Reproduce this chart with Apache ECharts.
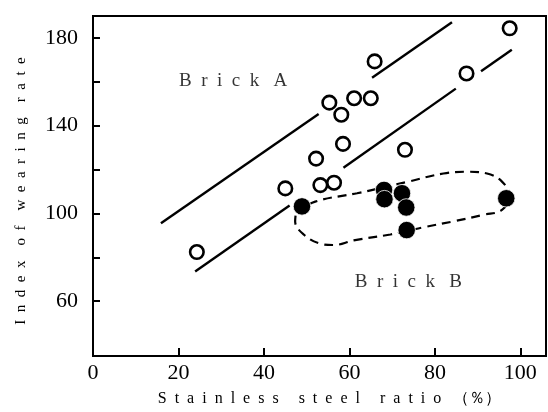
<!DOCTYPE html>
<html>
<head>
<meta charset="utf-8">
<script src="https://cdn.jsdelivr.net/npm/echarts@6/dist/echarts.min.js"></script>
<style>
html,body{margin:0;padding:0;background:#fff;}
#chart{width:548px;height:412px;}
</style>
</head>
<body>
<div id="chart"></div>
<script>
// ---- data ----
var brickA = [
  [24.3, 82.4], [45.0, 111.4], [52.2, 125.0], [53.2, 112.9], [55.3, 150.5],
  [56.4, 114.0], [58.1, 145.0], [58.5, 131.7], [61.1, 152.5], [65.0, 152.5],
  [65.9, 169.3], [73.0, 129.0], [87.4, 163.8], [97.5, 184.4]
];
var brickB = [
  [48.9, 103.2], [68.1, 110.7], [68.2, 106.5], [72.3, 109.2], [73.3, 102.7],
  [73.4, 92.4], [96.7, 106.9]
];
var upperLineSegs = [
  [[15.9, 95.5], [52.8, 145.3]],
  [[65.3, 161.8], [84.0, 187.2]]
];
var lowerLineSegs = [
  [[23.9, 73.5], [46.0, 103.6]],
  [[58.6, 120.8], [84.9, 156.9]],
  [[90.8, 164.8], [98.0, 174.6]]
];
var ellipseB = [
  [47.5, 100.6], [52.0, 105.4], [61.8, 109.2], [68.1, 111.9], [73.8, 114.5],
  [82.0, 118.2], [87.5, 119.0], [92.2, 118.2], [95.7, 114.5], [97.4, 108.3],
  [95.7, 101.6], [91.4, 99.4], [84.4, 96.4], [77.4, 93.7], [73.5, 92.0],
  [69.6, 90.4], [61.0, 87.7], [56.3, 85.6], [53.2, 86.2], [49.3, 90.4],
  [47.3, 96.4], [47.5, 100.6]
];
var textLabels = [
  ['B  r  i  c  k   A', 32.8, 160.2],
  ['B  r  i  c  k   B', 73.8, 68.8]
];
var xLabelValues = [0, 20, 40, 60, 80, 100];
var xTickValues = [20, 40, 60, 80, 100];
var yLabelValues = [60, 100, 140, 180];
var yTickValues = [60, 80, 100, 120, 140, 160, 180];
var xTitle = 'S  t  a  i  n  l  e  s  s     s  t  e  e  l     r  a  t  i  o   （％）';
var yTitle = 'I  n  d  e  x    o  f    w  e  a  r  i  n  g    r  a  t  e';

var FONT = '"Liberation Serif", "DejaVu Serif", serif';

var series = [];
upperLineSegs.concat(lowerLineSegs).forEach(function (seg) {
  series.push({
    type: 'line', data: seg, symbol: 'none', silent: true, z: 2,
    lineStyle: { color: '#000', width: 2.4 }
  });
});
series.push({
  type: 'line', data: ellipseB, symbol: 'none', smooth: 0.4, z: 2, silent: true,
  lineStyle: { color: '#000', width: 2.2, type: [9, 6] }
});
series.push({
  type: 'scatter', data: brickA, symbol: 'circle', symbolSize: 13.5, z: 4,
  itemStyle: { color: 'rgba(255,255,255,0)', borderColor: '#000', borderWidth: 2.6, opacity: 1 }
});
series.push({
  type: 'scatter', data: brickB, symbol: 'circle', symbolSize: 17.5, z: 5,
  itemStyle: { color: '#000', borderColor: '#fff', borderWidth: 0.8, opacity: 1 }
});
series.push({
  type: 'scatter', symbolSize: 0, z: 6, silent: true,
  data: textLabels.map(function (t) { return { value: [t[1], t[2]], name: t[0] }; }),
  label: {
    show: true, position: 'inside', formatter: '{b}',
    fontFamily: FONT, fontSize: 19, color: '#000'
  }
});

var chart = echarts.init(document.getElementById('chart'), null, { renderer: 'canvas' });
chart.setOption({
  animation: false,
  backgroundColor: '#fff',
  grid: {
    left: 93, top: 16, width: 453, height: 344,
    show: true, borderColor: '#000', borderWidth: 2, backgroundColor: 'transparent'
  },
  xAxis: {
    type: 'value', min: 0, max: 106,
    axisLine: { show: true, lineStyle: { color: '#000', width: 2 } },
    axisTick: { show: true, inside: true, length: 8, customValues: xTickValues,
      lineStyle: { color: '#000', width: 2 } },
    axisLabel: { customValues: xLabelValues, margin: 6, fontFamily: FONT, fontSize: 22, color: '#000' },
    splitLine: { show: false },
    name: xTitle, nameLocation: 'middle', nameGap: 35,
    nameTextStyle: { fontFamily: FONT, fontSize: 16, color: '#000', padding: [0, 0, 0, 20] }
  },
  yAxis: {
    type: 'value', min: 35, max: 190,
    axisLine: { show: true, lineStyle: { color: '#000', width: 2 } },
    axisTick: { show: true, inside: true, length: 7, customValues: yTickValues,
      lineStyle: { color: '#000', width: 2 } },
    axisLabel: { customValues: yLabelValues, margin: 15, fontFamily: FONT, fontSize: 22, color: '#000' },
    splitLine: { show: false },
    name: yTitle, nameLocation: 'middle', nameGap: 64, nameRotate: 90,
    nameTextStyle: { fontFamily: FONT, fontSize: 15, color: '#000', padding: [0, 10, 0, 0] }
  },
  series: series
});
</script>
</body>
</html>
